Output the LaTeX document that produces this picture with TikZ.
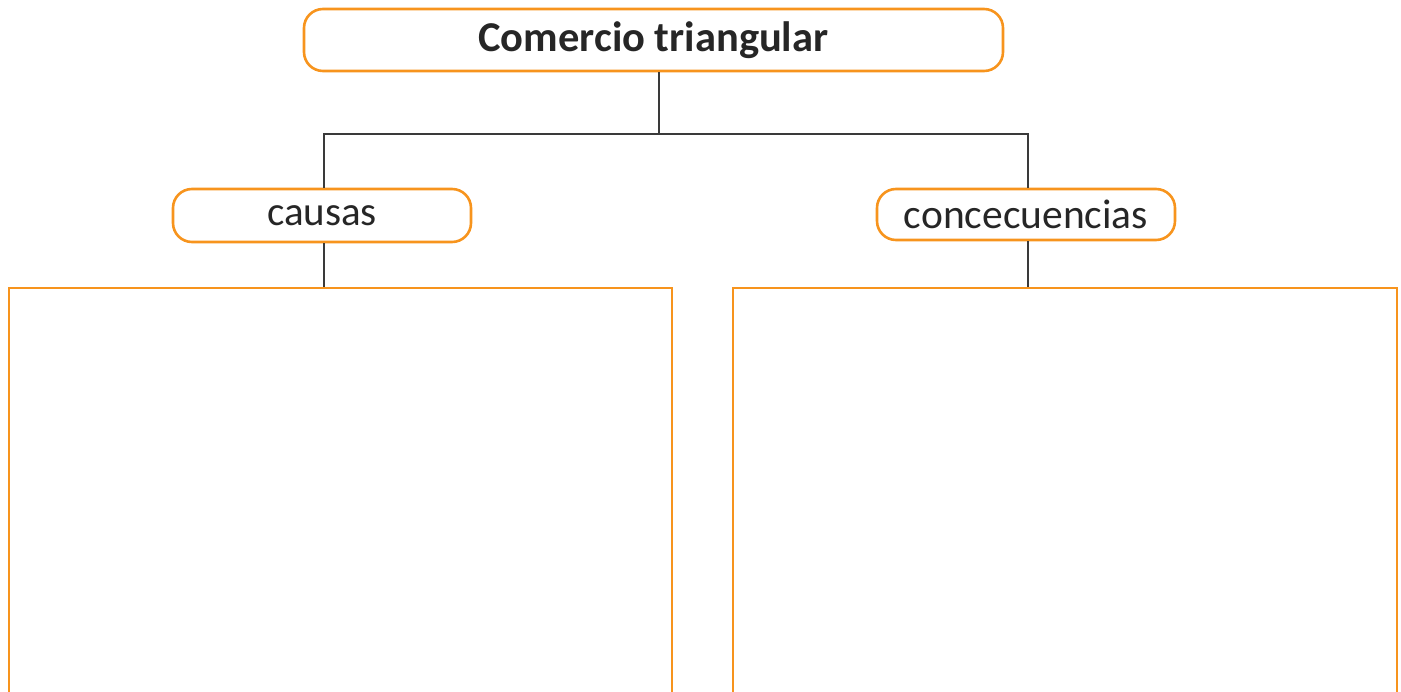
\documentclass[tikz,border=0pt]{standalone}
\usepackage{fontspec}
\setmainfont{Carlito}
\usetikzlibrary{positioning}
\definecolor{naranja}{HTML}{F7941D}
\definecolor{gris}{HTML}{3A3A3A}
\tikzset{
  caja/.style={draw=naranja, line width=2.6pt, rounded corners=19pt, inner sep=0pt,
    text=black!85},
  marco/.style={draw=naranja, line width=2.6pt, inner sep=0pt},
  linea/.style={draw=gris, line width=1.2pt}
}
\begin{document}
\begin{tikzpicture}[x=1pt,y=-1pt]
  \useasboundingbox (0,0) rectangle (1401,692);
  \clip (0,0) rectangle (1401,692);
  \node[caja, minimum width=699pt, minimum height=62pt,
    font=\bfseries\fontsize{42.5}{42.5}\selectfont] (titulo) at (653.5,40) {Comercio triangular};
  \node[caja, minimum width=298pt, minimum height=53pt,
    font=\fontsize{41}{41}\selectfont] (causas) at (322,215.5) {causas};
  \node[caja, minimum width=298pt, minimum height=51pt,
    font=\fontsize{41.5}{41.5}\selectfont] (conse) at (1026,214.5) {concecuencias};
  \node[marco, minimum width=663pt, minimum height=472pt] (izq) at (340.5,524) {};
  \node[marco, minimum width=664pt, minimum height=472pt] (der) at (1065,524) {};
  % conectores
  \coordinate (rama) at (659,134);
  \draw[linea] (titulo.south -| rama) -- (rama);
  \draw[linea] ([xshift=2pt]causas.north) |- (rama) -| ([xshift=2pt]conse.north);
  \draw[linea] ([xshift=2pt]causas.south) -- ([xshift=2pt]causas.south |- izq.north);
  \draw[linea] ([xshift=2pt]conse.south) -- ([xshift=2pt]conse.south |- der.north);
\end{tikzpicture}
\end{document}
